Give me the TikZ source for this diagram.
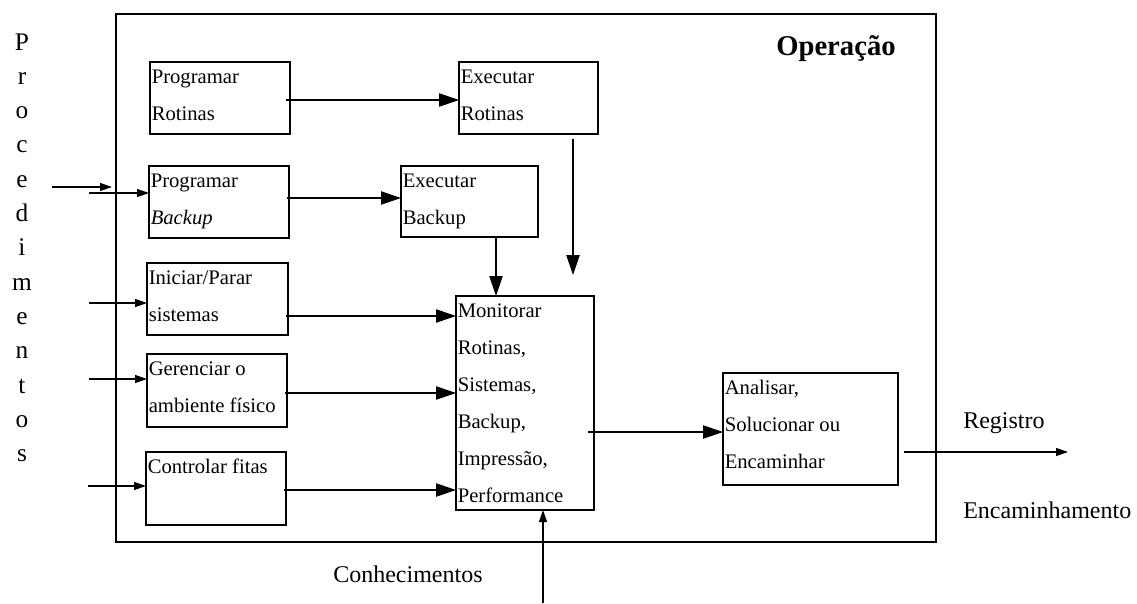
\documentclass[tikz,border=0pt]{standalone}
\usepackage{fontspec}
\setmainfont{Liberation Serif}
\usetikzlibrary{arrows.meta,calc,fit}
\begin{document}
\begin{tikzpicture}[x=0.75pt,y=-0.75pt,
  box/.style={draw, line width=1.1pt, inner sep=0pt, outer sep=0pt},
  outerbox/.style={draw, line width=1pt, inner sep=0pt, outer sep=0pt},
  txt/.style={font=\fontsize{15.5}{27.75}\selectfont, align=left, anchor=north west, inner sep=0pt},
  conn/.style={line width=0.9pt},
  big/.style={conn, -{Triangle[length=15pt,width=10pt]}},
  small/.style={conn, -{Triangle[length=9pt,width=6pt]}},
  lab/.style={font=\fontsize{18}{20}\selectfont, anchor=base west, inner sep=0pt},
  vl/.style={font=\fontsize{19}{20}\selectfont, anchor=base, inner sep=0pt}
]
\useasboundingbox (0,0) rectangle (1137,603);

% outer frame
\node[outerbox, fit={(116,14) (936,542)}] (OP) {};
\node[font=\bfseries\fontsize{21.5}{24}\selectfont, anchor=base west, inner sep=0pt] (OPt) at (776,55) {Operação};

% boxes
\node[box, fit={(150,62) (290,134)}] (PR) {};
\node[box, fit={(149,166) (289,238)}] (PB) {};
\node[box, fit={(147,263) (288,335)}] (IP) {};
\node[box, fit={(147,354) (287,427)}] (GA) {};
\node[box, fit={(146,452) (286,525)}] (CF) {};
\node[box, fit={(459,62) (598,134)}] (ER) {};
\node[box, fit={(401,166) (538,237)}] (EB) {};
\node[box, fit={(456,296) (594,510)}] (MON) {};
\node[box, fit={(723,373) (898,485)}] (AN) {};

% box texts
\node[txt] (PRt) at ($(PR.north west)+(1.5,6.3)$) {\rule{0pt}{11pt}Programar\\Rotinas};
\node[txt] (PBt) at ($(PB.north west)+(1.5,6.3)$) {\rule{0pt}{11pt}Programar\\\textit{Backup}};
\node[txt] (IPt) at ($(IP.north west)+(1.5,6.3)$) {\rule{0pt}{11pt}Iniciar/Parar\\sistemas};
\node[txt] (GAt) at ($(GA.north west)+(1.5,6.3)$) {\rule{0pt}{11pt}Gerenciar o\\ambiente físico};
\node[txt] (CFt) at ($(CF.north west)+(1.5,6.3)$) {\rule{0pt}{11pt}Controlar fitas};
\node[txt] (ERt) at ($(ER.north west)+(1.5,6.3)$) {\rule{0pt}{11pt}Executar\\Rotinas};
\node[txt] (EBt) at ($(EB.north west)+(1.5,6.3)$) {\rule{0pt}{11pt}Executar\\Backup};
\node[txt] (MONt) at ($(MON.north west)+(1.5,6.3)$) {\rule{0pt}{11pt}Monitorar\\Rotinas,\\Sistemas,\\Backup,\\Impressão,\\Performance};
\node[txt] (ANt) at ($(AN.north west)+(1.5,6.3)$) {\rule{0pt}{11pt}Analisar,\\Solucionar ou\\Encaminhar};

% vertical label
\foreach \l [count=\i from 0] in {P,r,o,c,e,d,i,m,e,n,t,o,s}
  \node[vl] (v\i) at (22, {50+34.3*\i}) {\l};

% outside labels
\node[lab] (reg) at (963,428) {Registro};
\node[lab] (enc) at (963,518) {Encaminhamento};
\node[lab] (con) at (333,582) {Conhecimentos};

% inputs on left
\coordinate (in0) at (52,187);
\coordinate (in0e) at (112,187);
\draw[small] (in0) -- (in0e);
\coordinate (in1) at (89,193);
\draw[small] (in1) -- (in1 -| PB.west);
\coordinate (in2) at (89,303);
\draw[small] (in2) -- (in2 -| IP.west);
\coordinate (in3) at (89,379);
\draw[small] (in3) -- (in3 -| GA.west);
\coordinate (in4) at (88,486);
\draw[small] (in4) -- (in4 -| CF.west);

% internal connectors
\draw[big] ($(PR.east |- 0,100)+(-4,0)$) -- (ER.west |- 0,100);
\draw[big] ($(PB.east |- 0,198)+(-2,0)$) -- (EB.west |- 0,198);
\draw[big] ($(IP.east |- 0,316)+(-2,0)$) -- (MON.west |- 0,316);
\draw[big] ($(GA.east |- 0,393)+(-2,0)$) -- (MON.west |- 0,393);
\draw[big] ($(CF.east |- 0,490)+(-2,0)$) -- (MON.west |- 0,490);
\draw[big] (EB.south -| 496,0) -- (MON.north -| 496,0);
\coordinate (erend) at (573,275);
\draw[big] ($(ER.south -| erend)+(0,5)$) -- (erend);
\draw[big] ($(MON.east |- 0,432)+(-6,0)$) -- (AN.west |- 0,432);
\coordinate (out) at (1068,452);
\draw[small] ($(AN.east |- out)+(6,0)$) -- (out);
\coordinate (know) at (543,603);
\draw[small] (know) -- (MON.south -| know);
\end{tikzpicture}
\end{document}
